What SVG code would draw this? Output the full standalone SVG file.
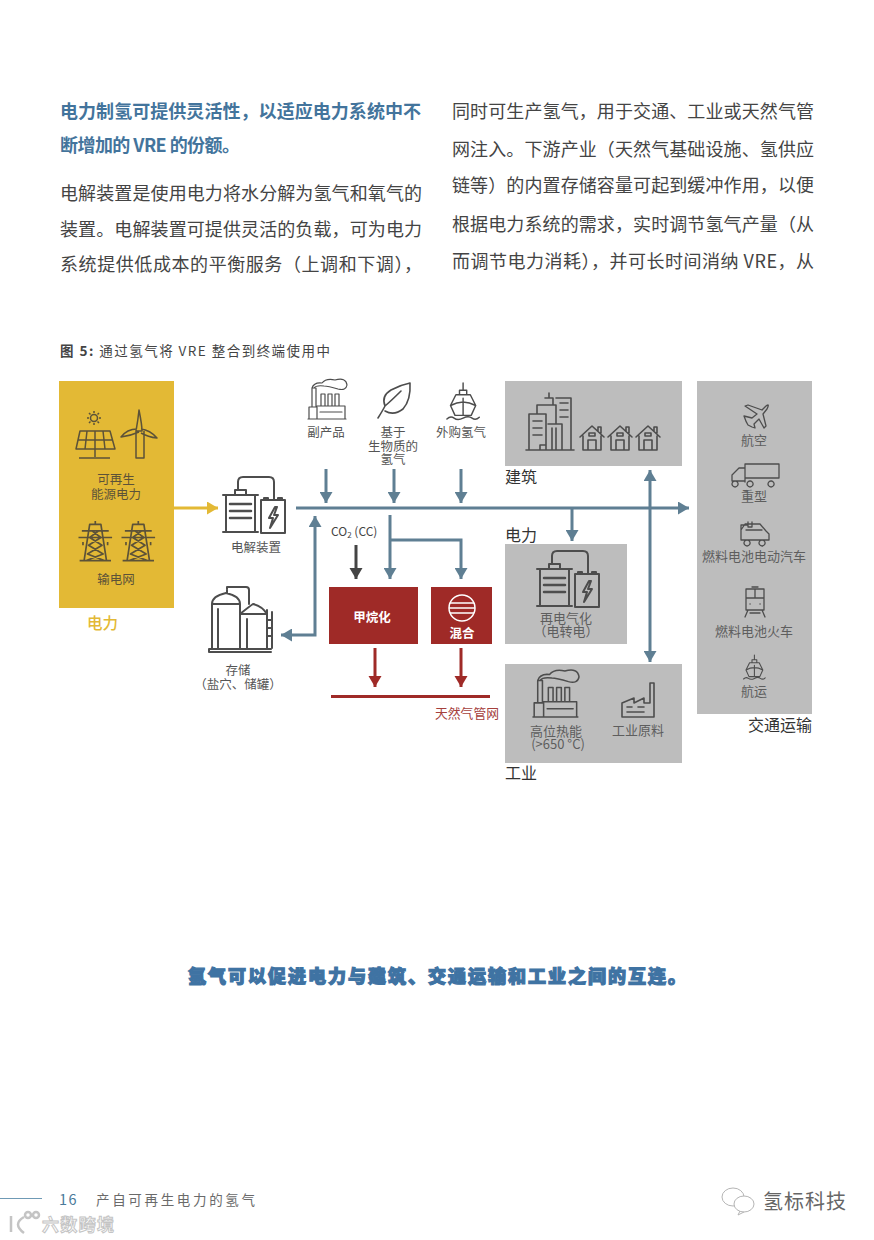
<svg xmlns="http://www.w3.org/2000/svg" width="874" height="1240" viewBox="0 0 874 1240">
<style>
text{font-family:"Noto Sans CJK SC","Noto Sans",sans-serif}
.body{font-size:18px;fill:#444;font-weight:400}
.head{font-size:18px;fill:#43749c;font-weight:700}
.lab{font-size:12.500px;fill:#555;text-anchor:middle}
.glab{font-size:13px;fill:#5e5e5e;text-anchor:middle}
.sec{font-size:16px;fill:#333}
.ic{fill:none;stroke:#4d4d4d;stroke-width:1.6;stroke-linejoin:round;stroke-linecap:round}
.icy{fill:none;stroke:#5c5238;stroke-width:1.5;stroke-linejoin:round}
.blue{fill:none;stroke:#5f7f93;stroke-width:3}
.red{fill:none;stroke:#9f2a27;stroke-width:3}
.grey{fill:#bdbdbd}
</style>
<defs>
<marker id="hb" markerUnits="userSpaceOnUse" markerWidth="13" markerHeight="13" refX="11" refY="6.5" orient="auto-start-reverse"><path d="M0 0L11 6.5L0 13z" fill="#5f7f93"/></marker>
<marker id="hr" markerUnits="userSpaceOnUse" markerWidth="14" markerHeight="14" refX="11" refY="6.5" orient="auto"><path d="M0 0L11 6.5L0 13z" fill="#9f2a27"/></marker>
<marker id="hd" markerUnits="userSpaceOnUse" markerWidth="14" markerHeight="14" refX="11" refY="6.5" orient="auto"><path d="M0 0L11 6.5L0 13z" fill="#444"/></marker>
<marker id="hy" markerUnits="userSpaceOnUse" markerWidth="14" markerHeight="14" refX="11" refY="6.5" orient="auto"><path d="M0 0L11 6.5L0 13z" fill="#e3b935"/></marker>
<g id="elec">
<path d="M0 8H35M3 8V45M32 8V45M0 45H35M12 8V3H23V8M15 3V-5Q15 -10 20 -10H46Q51 -10 51 -5V13" style="stroke-width:2"/>
<path d="M7 17H28M7 24H28M7 31H28" style="stroke-width:2.500"/>
<path d="M38 13V46H62V13ZM41 13V11H45V13M55 13V11H59V13M52 20L46 31H50L47 41L55 28H51L54 20Z" style="stroke-width:2"/>
</g>
<g id="house"><path d="M0 12L12 1L24 12M3 11V25H21V11M8 25V15H16V25M18 6V2H21V8"/><rect x="9" y="8" width="6" height="3"/></g>
<g id="ship"><path d="M14 0V8M10 8H18V13H10ZM6 13H22L28 25L23 36H5L0 25ZM0 25Q14 17 28 25M14 17V36M-4 40Q0 36 4 39T14 39T24 39T32 38"/></g>
<g id="tower"><path d="M15 0V3M3 9H27M0 15H30M4 19V22M26 19V22M10 3H20L25 36H5ZM12 9L20 15L9 22L22 30L7 36M18 9L10 15L21 22L8 30L23 36M1 36H29"/></g>
<g id="factory"><path d="M0 39H38M1 39V27H9V39M9 26H37V39M4 27V8H8V26M13 26V14H17V26M20 26V14H24V26M27 26V14H31V26M12 32H34M4 8Q6 2 14 3Q18 -2 27 0Q38 -3 39 5Q38 11 30 9Q20 6 16 6Q8 5 6 8" /></g>
</defs>
<rect width="874" height="1240" fill="#fff"/>

<g id="text-left">
<text class="head" x="60" y="118" textLength="361">电力制氢可提供灵活性，以适应电力系统中不</text>
<text class="head" x="60" y="152" textLength="180">断增加的 VRE 的份额。</text>
<text class="body" x="60" y="200" textLength="362">电解装置是使用电力将水分解为氢气和氧气的</text>
<text class="body" x="60" y="236" textLength="362">装置。电解装置可提供灵活的负载，可为电力</text>
<text class="body" x="60" y="271" textLength="362">系统提供低成本的平衡服务（上调和下调），</text>
</g>
<g id="text-right">
<text class="body" x="452" y="118" textLength="362">同时可生产氢气，用于交通、工业或天然气管</text>
<text class="body" x="452" y="156" textLength="362">网注入。下游产业（天然气基础设施、氢供应</text>
<text class="body" x="452" y="192" textLength="362">链等）的内置存储容量可起到缓冲作用，以便</text>
<text class="body" x="452" y="231" textLength="362">根据电力系统的需求，实时调节氢气产量（从</text>
<text class="body" x="452" y="268" textLength="362">而调节电力消耗），并可长时间消纳  VRE，从</text>
</g>
<text id="fig-title" x="60" y="356" font-size="13.500" fill="#444" textLength="270"><tspan font-weight="700">图 5:</tspan> 通过氢气将 VRE 整合到终端使用中</text>

<g id="connectors">
<path d="M174 508H218" fill="none" stroke="#e3b935" stroke-width="3" marker-end="url(#hy)"/>
<path d="M296 508H689" class="blue" marker-end="url(#hb)"/>
<path d="M326 469V503" class="blue" marker-end="url(#hb)"/>
<path d="M394 469V503" class="blue" marker-end="url(#hb)"/>
<path d="M461 469V503" class="blue" marker-end="url(#hb)"/>
<path d="M315 516V635H281" class="blue" marker-start="url(#hb)" marker-end="url(#hb)"/>
<path d="M390 515V579" class="blue" marker-end="url(#hb)"/>
<path d="M390 540H461V579" class="blue" marker-end="url(#hb)"/>
<path d="M356 545V579" fill="none" stroke="#444" stroke-width="3" marker-end="url(#hd)"/>
<path d="M572 508V541" class="blue" marker-end="url(#hb)"/>
<path d="M650 470V662" class="blue" marker-start="url(#hb)" marker-end="url(#hb)"/>
<path d="M375 648V687" class="red" marker-end="url(#hr)"/>
<path d="M461 648V687" class="red" marker-end="url(#hr)"/>
<path d="M331 696.500H490" class="red"/>
</g>

<g id="node-power">
<rect x="59" y="381" width="115" height="227" fill="#e3b935"/>
<g class="icy">
<circle cx="94" cy="418" r="3.500"/>
<path d="M94 411V413M94 423V425M87 418H89M99 418H101M89 413L90.500 414.500M97.500 421.500L99 423M89 423L90.500 421.500M97.500 414.500L99 413"/>
<path d="M80 431H110L115 449H76ZM78 440H112M87 431L85 449M95 431V449M103 431L105 449M95 449V457M79 458H110"/>
<path d="M139 410Q142 425 142 431Q139 431 136 431Q138 420 139 410ZM136 431V458H144V431M139 432Q130 436 121 437Q127 429 137 429M141 429Q150 430 157 438Q148 437 141 433"/>
</g>
<use href="#tower" transform="translate(78.500 521) scale(1.120 1.100)" class="icy"/>
<use href="#tower" transform="translate(121.500 521) scale(1.120 1.100)" class="icy"/>
<text class="lab" x="116" y="484" style="fill:#5c5238">可再生</text>
<text class="lab" x="116" y="499" style="fill:#5c5238">能源电力</text>
<text class="lab" x="116" y="584" style="fill:#5c5238">输电网</text>
<text x="87" y="629" font-size="15.500" fill="#e3b935" font-weight="500">电力</text>
</g>

<g id="node-electrolyser">
<use href="#elec" x="223" y="487" class="ic"/>
<text class="lab" x="256" y="552">电解装置</text>
</g>

<g id="node-storage">
<g class="ic" style="stroke-width:2">
<path d="M212 649V604Q212 596 226 593Q240 596 240 604V649M212 604H240M218 609V649M240 614H267V649M240 614Q250 606 253 604Q262 606 267 614M247 619V649M227 593V590M227 589V587H246Q249 587 249 590V604M267 610V648M272 612V648M267 620H272M267 628H272M267 636H272"/>
<path d="M209 649H271M209 649V652H271"/>
</g>
<text class="lab" x="238" y="675">存储</text>
<text class="lab" x="238" y="689">（盐穴、储罐）</text>
</g>

<g id="node-byproduct">
<use href="#factory" x="308" y="380" class="ic" style="stroke-width:1.200"/>
<text class="lab" x="326" y="437">副产品</text>
</g>
<g id="node-biomass">
<path class="ic" d="M378 418Q383 410 385 406Q381 396 391 390Q400 385 410 383Q411 400 403 409Q394 416 385 411M385 406Q392 400 401 391" />
<text class="lab" x="393" y="437">基于</text>
<text class="lab" x="393" y="451">生物质的</text>
<text class="lab" x="393" y="464">氢气</text>
</g>
<g id="node-purchase">
<use href="#ship" transform="translate(450.500 383) scale(.9)" class="ic" style="stroke-width:1.600"/>
<text class="lab" x="461" y="437">外购氢气</text>
</g>
<text x="331" y="536" font-size="12" fill="#444" font-family="Noto Sans">CO<tspan font-size="8" dy="2">2</tspan><tspan dy="-2"> (CC)</tspan></text>

<g id="node-methanation">
<rect x="329" y="587" width="89" height="57" fill="#9f2a27"/>
<text x="372" y="622" font-size="12.500" fill="#fff" text-anchor="middle" font-weight="700">甲烷化</text>
</g>
<g id="node-blend">
<rect x="431" y="587" width="61" height="57" fill="#9f2a27"/>
<circle cx="462" cy="608" r="13" fill="none" stroke="#fff" stroke-width="1.500"/>
<path d="M450 603H474M449 608H475M450 613H474" stroke="#fff" stroke-width="1.500"/>
<text x="462" y="638" font-size="12.500" fill="#fff" text-anchor="middle" font-weight="700">混合</text>
</g>
<text id="label-grid" x="467" y="718" font-size="12.800" fill="#a5403c" text-anchor="middle">天然气管网</text>

<g id="node-buildings">
<rect class="grey" x="505" y="381" width="177" height="85"/>
<g class="ic">
<path d="M526 450H574M529 450V414H546V450M537 414V405H556V424M545 398H553V405M549 393V398M556 398H571V450M548 424H562V450M552 428V450M556 428V450M540 450V445H546V450"/>
<path d="M533 421H542M533 428H542M533 435H542M560 403H568M560 410H568M560 417H568"/>
<use href="#house" x="580" y="425"/>
<use href="#house" x="608" y="425"/>
<use href="#house" x="636" y="425"/>
</g>
<text class="sec" x="505" y="483">建筑</text>
</g>

<g id="node-reelectrify">
<rect class="grey" x="505" y="544" width="122" height="100"/>
<use href="#elec" x="537" y="561" class="ic"/>
<text class="glab" x="566" y="623">再电气化</text>
<text class="glab" x="566" y="636">（电转电）</text>
<text class="sec" x="505" y="541">电力</text>
</g>

<g id="node-industry">
<rect class="grey" x="505" y="664" width="177" height="99"/>
<use href="#factory" transform="translate(533 671) scale(1.180)" class="ic" style="stroke-width:1.300"/>
<path class="ic" d="M622 717V703L634 698V703L644 698V703H650V683H654V717ZM622 717H654M627 707H632M638 707H644M627 712H644"/>
<text class="glab" x="556" y="736">高位热能</text>
<text class="glab" x="558" y="749">(&gt;650 °C)</text>
<text class="glab" x="638" y="735">工业原料</text>
<text class="sec" x="505" y="779">工业</text>
</g>

<g id="node-transport">
<rect class="grey" x="697" y="381" width="115" height="333"/>
<g class="ic" style="stroke-width:1.300">
<path d="M744 416L752 418L757 414L745 406L748 405L762 410L766 406Q770 403 767 409L763 414L766 426L764 428L759 419L754 424L755 428L752 427L748 425Q746 422 744 416"/>
<path d="M745 482V464H779V478H745M745 468H739L732 475V481H745M735 481a3 3 0 1 0 .1 0M750 481a3 3 0 1 0 .1 0M771 481a3 3 0 1 0 .1 0"/>
<path d="M741 537V530L745 524H760L766 531L769 534V540H741ZM746 530H762M747 540a3 3 0 1 0 .1 0M762 540a3 3 0 1 0 .1 0M741 531V525H748M748 522V527H752V522"/>
<path d="M746 589H764V610H746ZM746 598H764M755 589V598M752 587H758M750 604h.1M760 604h.1M748 610L745 617M762 610L765 617M750 613H760"/>
</g>
<use href="#ship" transform="translate(746 655) scale(.6)" class="ic" style="stroke-width:1.800"/>
<text class="glab" x="754" y="445">航空</text>
<text class="glab" x="754" y="501">重型</text>
<text class="glab" x="754" y="561">燃料电池电动汽车</text>
<text class="glab" x="754" y="636">燃料电池火车</text>
<text class="glab" x="754" y="696">航运</text>
<text class="sec" x="748" y="731">交通运输</text>
</g>

<text id="callout" x="188" y="983" font-size="18" font-weight="900" fill="#3f73a3" stroke="#3f73a3" stroke-width="1.200" textLength="498">氢气可以促进电力与建筑、交通运输和工业之间的互连。</text>

<g id="footer">
<path d="M0 1198.500H42" stroke="#6f9ab5" stroke-width="1"/>
<text x="59" y="1205" font-size="14.500" fill="#4a7a9a" font-family="Lato" letter-spacing="1.500">16</text>
<text x="96" y="1205" font-size="13.500" fill="#6a6a6a" textLength="159">产自可再生电力的氢气</text>
<g fill="none" stroke="#c4c4c4" stroke-width="2.500"><path d="M11 1216V1232M24 1217Q12 1224 24 1233"/><circle cx="28" cy="1215" r="3"/><circle cx="36" cy="1215" r="3"/></g>
<text x="42" y="1231" font-size="17" font-weight="700" fill="#fff" stroke="#c4c4c4" stroke-width="1" textLength="72">六数跨境</text>
<g fill="none" stroke="#b5b5b5" stroke-width="1"><ellipse cx="733" cy="1197" rx="11" ry="9"/><ellipse cx="744" cy="1204" rx="10" ry="8" fill="#fff"/><path d="M740 1211L738 1215L744 1212"/></g>
<text x="763" y="1209" font-size="20" fill="#666" textLength="83">氢标科技</text>
</g>
</svg>
